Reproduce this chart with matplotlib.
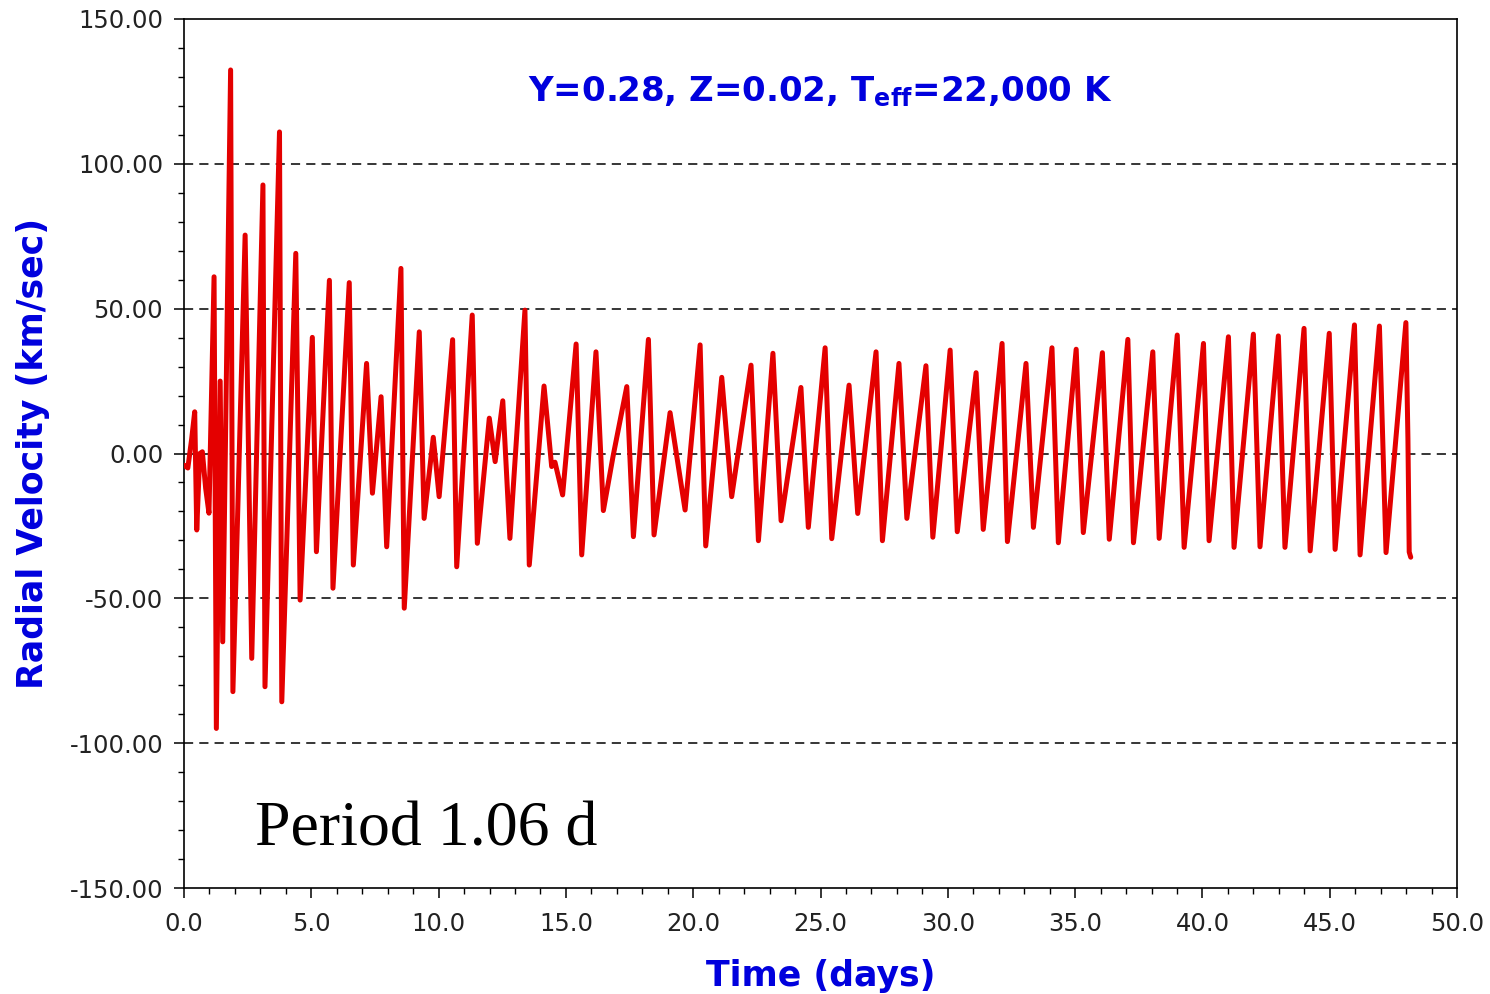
import matplotlib
matplotlib.use("Agg")
import matplotlib.pyplot as plt
from matplotlib.ticker import MultipleLocator, FormatStrFormatter

# turning points (time in days, radial velocity in km/s)
t_days = [
    0.0, 0.15, 0.3, 0.42, 0.5, 0.62, 0.72, 0.85, 0.98, 1.18,
    1.27, 1.42, 1.52, 1.83, 1.92, 2.40, 2.66, 3.10, 3.18, 3.75,
    3.84, 4.39, 4.56, 5.04, 5.20, 5.71, 5.85, 6.49, 6.65, 7.17,
    7.40, 7.74, 7.96, 8.52, 8.65, 9.24, 9.43, 9.79, 10.02, 10.55,
    10.71, 11.32, 11.52, 11.99, 12.22, 12.52, 12.80, 13.39, 13.56, 14.14,
    14.44, 14.57, 14.87, 15.40, 15.62, 16.18, 16.47, 16.85, 17.39, 17.65,
    18.24, 18.46, 19.09, 19.68, 20.27, 20.49, 21.12, 21.51, 22.27, 22.56,
    23.13, 23.45, 24.23, 24.52, 25.18, 25.44, 26.12, 26.46, 27.18, 27.43,
    28.08, 28.39, 29.14, 29.41, 30.09, 30.37, 31.11, 31.39, 32.13, 32.34,
    33.07, 33.36, 34.09, 34.34, 35.04, 35.32, 36.07, 36.34, 37.07, 37.29,
    38.05, 38.30, 39.01, 39.28, 40.04, 40.26, 41.02, 41.24, 42.00, 42.26,
    42.98, 43.24, 43.99, 44.23, 44.98, 45.21, 45.97, 46.19, 46.95, 47.21,
    47.99, 48.07, 48.12, 48.18,
]
rv_kms = [
    -4, -5, 5, 14.4, -26.4, 0, 0.6, -12, -20.6, 61,
    -94.9, 25, -65, 132.4, -82.2, 75.4, -70.7, 92.7, -80.5, 111,
    -85.7, 69.1, -50.6, 40.1, -33.9, 59.8, -46.5, 59, -38.5, 31.1,
    -13.7, 19.6, -32.2, 63.9, -53.4, 42, -22.4, 5.6, -14.9, 39.3,
    -39.1, 47.8, -31, 12.2, -2.8, 18.2, -29.3, 49.5, -38.5, 23.3,
    -4.5, -3, -14.3, 37.8, -35, 35.1, -19.7, -1, 23.1, -28.7,
    39.4, -28.1, 14.1, -19.5, 37.5, -31.9, 26.3, -14.9, 30.5, -30.1,
    34.6, -23.2, 22.8, -25.5, 36.5, -29.4, 23.6, -20.7, 35.1, -30.1,
    31.1, -22.4, 30.3, -28.9, 35.7, -27, 27.9, -26.2, 38, -30.4,
    31.1, -25.5, 36.5, -30.8, 36, -27.3, 34.8, -29.6, 39.4, -30.8,
    35.1, -29.3, 40.9, -32.4, 38, -30.1, 40.3, -32.4, 41.2, -32.2,
    40.6, -32.4, 43.2, -33.6, 41.5, -33.1, 44.4, -35, 44, -34.2,
    45.2, 5, -34, -35.8,
]

y_grid = [-100, -50, 0, 50, 100]

blue = "#0000dd"

fig = plt.figure(figsize=(14.9, 9.94), dpi=100)
ax = fig.add_axes([0.1235, 0.1066, 0.8544, 0.8743])

for g in y_grid:
    ax.axhline(g, color="black", linestyle=(0, (6, 4)), linewidth=1.1, zorder=1)

ax.plot(t_days, rv_kms, color="#e40000", linewidth=3.6,
        solid_joinstyle="round", solid_capstyle="round", zorder=3)

ax.set_xlim(0, 50)
ax.set_ylim(-150, 150)
ax.xaxis.set_major_locator(MultipleLocator(5))
ax.xaxis.set_minor_locator(MultipleLocator(1))
ax.yaxis.set_major_locator(MultipleLocator(50))
ax.yaxis.set_minor_locator(MultipleLocator(10))
ax.xaxis.set_major_formatter(FormatStrFormatter("%.1f"))
ax.yaxis.set_major_formatter(FormatStrFormatter("%.2f"))

ax.tick_params(which="major", direction="out", length=7, width=1.1,
               labelsize=17.5, labelcolor="#222222", pad=8)
ax.tick_params(which="minor", direction="out", length=4, width=1.0)
ax.tick_params(axis="x", which="major", pad=10)
for sp in ax.spines.values():
    sp.set_linewidth(1.2)

ax.set_xlabel("Time (days)", fontsize=25, fontweight="bold", color=blue, labelpad=17)
ax.set_ylabel("Radial Velocity (km/sec)", fontsize=25, fontweight="bold", color=blue, labelpad=14)

ax.text(0.5, 0.916, r"Y=0.28, Z=0.02, T$_{\bf eff}$=22,000 K", transform=ax.transAxes,
        ha="center", va="center", fontsize=24.5, fontweight="bold", color=blue)
ax.text(0.0558, 0.049, "Period 1.06 d", transform=ax.transAxes,
        ha="left", va="baseline", fontsize=46, family="Liberation Serif", color="black")

fig.savefig("out.png", dpi=100)
